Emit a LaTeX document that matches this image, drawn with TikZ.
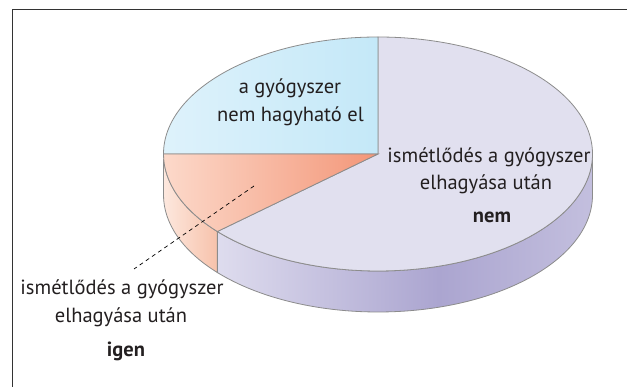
\documentclass[tikz,border=0pt]{standalone}
\usepackage{fontspec}
\setmainfont{PT Sans}
\usetikzlibrary{calc}
\definecolor{rimgray}{HTML}{8C8C8C}
\definecolor{txt}{HTML}{231F20}
\definecolor{lavtop}{HTML}{E1E0EF}
\definecolor{lavA}{HTML}{DEDCEE}
\definecolor{lavB}{HTML}{ABA5D0}
\definecolor{lavC}{HTML}{C3BFDE}
\definecolor{bluA}{HTML}{DEF2FB}
\definecolor{bluB}{HTML}{C4E8F8}
\definecolor{salA}{HTML}{FCD9CA}
\definecolor{salB}{HTML}{F39678}
\definecolor{salsA}{HTML}{FDE8DE}
\definecolor{salsB}{HTML}{F7C2AB}
\pgfdeclarehorizontalshading{lavside}{100bp}{color(0bp)=(lavA); color(25bp)=(lavA); color(54.5bp)=(lavB); color(75bp)=(lavC); color(100bp)=(lavC)}
\tikzset{
  rim/.style={draw=rimgray, line width=0.8pt},
  lbl/.style={anchor=base, inner sep=0pt, text=txt, font=\fontsize{20.5}{24}\selectfont},
  lblb/.style={lbl, font=\fontsize{20.5}{24}\selectfont\bfseries},
  leader/.style={draw=black, line width=0.7pt, dash pattern=on 4pt off 3.5pt}
}
\begin{document}
\begin{tikzpicture}[x=1pt,y=1pt]
\useasboundingbox (0,0) rectangle (627,387);
\fill[white] (0,0) rectangle (627,387);
% frame
\draw[line width=1.3pt, draw=black!80] (12.5,0) -- (12.5,377.5) -- (627,377.5);
\coordinate (C) at (378,233);
\def\RX{214.5pt}\def\RY{117pt}
\coordinate (P90) at ($(C)+(90:214.5pt and 117pt)$);
\coordinate (P180) at ($(C)+(180:214.5pt and 117pt)$);
\coordinate (Ps) at ($(C)+(221.5:214.5pt and 117pt)$);
\coordinate (P360) at ($(C)+(0:214.5pt and 117pt)$);
% lavender side
\path[shading=lavside, rim] (Ps) arc[start angle=221.5, end angle=360, x radius=\RX, y radius=\RY]
  -- ++(0,-41) arc[start angle=360, end angle=221.5, x radius=\RX, y radius=\RY] -- cycle;
% salmon side
\path[left color=salsA, right color=salsB, rim] (P180) arc[start angle=180, end angle=221.5, x radius=\RX, y radius=\RY]
  -- ++(0,-41) arc[start angle=221.5, end angle=180, x radius=\RX, y radius=\RY] -- cycle;
% lavender top
\path[fill=lavtop, rim] (C) -- (P90) arc[start angle=90, end angle=-138.5, x radius=\RX, y radius=\RY] -- cycle;
% blue top
\path[left color=bluA, right color=bluB, rim] (C) -- (P90) arc[start angle=90, end angle=180, x radius=\RX, y radius=\RY] -- cycle;
% salmon top
\path[left color=salA, right color=salB, rim] (C) -- (P180) arc[start angle=180, end angle=221.5, x radius=\RX, y radius=\RY] -- cycle;
% leader
\coordinate (la) at (254,201);
\coordinate (lb) at (134,118);
\draw[leader] (la) -- (lb);
% labels
\node[lbl] (b1) at (290,293) {a gyógyszer};
\node[lbl] (b2) at (290.5,265) {nem hagyható el};
\node[lbl] (r1) at (489,224) {ismétlődés a gyógyszer};
\node[lbl] (r2) at (486,197) {elhagyása után};
\node[lblb] (r3) at (492,164) {nem};
\node[lbl] (l1) at (122,92) {ismétlődés a gyógyszer};
\node[lbl] (l2) at (121,64) {elhagyása után};
\node[lblb] (l3) at (126,30) {igen};
\end{tikzpicture}
\end{document}
